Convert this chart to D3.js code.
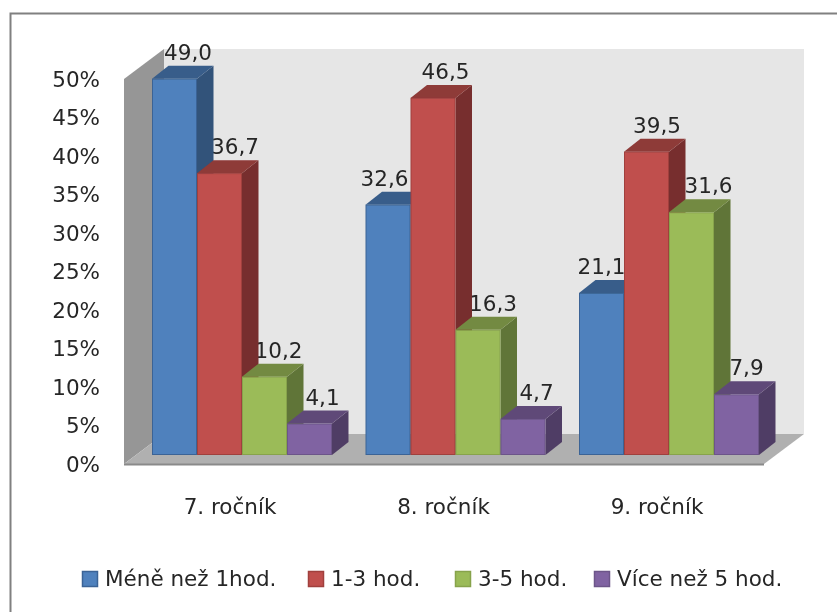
<!DOCTYPE html>
<meta charset="utf-8">
<style>
    body { margin: 0; background: #fff; }
    text { font-family: "DejaVu Sans", sans-serif; fill: #262626; }
    .axis path, .axis line { display: none; }
    .axis text { font-size: 21.5px; font-family: "DejaVu Sans", sans-serif; }
</style>
<div class="chart"></div>
<script src="https://cdn.jsdelivr.net/npm/d3@7"></script>
<script>
    var grades = ["7. ročník", "8. ročník", "9. ročník"];
    var groups = ["Méně než 1hod.", "1-3 hod.", "3-5 hod.", "Více než 5 hod."];
    var less1 = [49.0, 32.6, 21.1];
    var h1to3 = [36.7, 46.5, 39.5];
    var h3to5 = [10.2, 16.3, 31.6];
    var more5 = [4.1, 4.7, 7.9];
    var percentTicks = [0, 5, 10, 15, 20, 25, 30, 35, 40, 45, 50];

    var seriesValues = [less1, h1to3, h3to5, more5];
    // front, top, side, outline
    var colors = [
        ["#4f81bd", "#385d8a", "#31527a", "#3a6496"],
        ["#c0504d", "#8e3a38", "#772f2d", "#a03f3c"],
        ["#9bbb59", "#738a42", "#617537", "#87a34c"],
        ["#8064a2", "#5f4a78", "#503e65", "#6c5489"]
    ];
    // the labels were placed by hand in the original, offset from the bar centre
    var labelShift = [
        [13.5, -3.5, 0],
        [15.5, 12.5, 10.5],
        [14, 15, 17],
        [13, 13.5, 10]
    ];

    var svgMain = d3.select(".chart").append("svg")
        .attr("width", 837)
        .attr("height", 612);

    // the reference is a soft, scaled up screenshot
    svgMain.append("filter").attr("id", "soft")
        .attr("filterUnits", "userSpaceOnUse")
        .attr("x", 0).attr("y", 0).attr("width", 837).attr("height", 612)
        .append("feGaussianBlur").attr("stdDeviation", 0.5);

    var svg = svgMain.append("g").attr("filter", "url(#soft)");

    svg.append("rect")
        .attr("width", 837).attr("height", 612)
        .attr("fill", "#fff");

    // outer frame
    svg.append("rect")
        .attr("x", 10.5).attr("y", 13.5)
        .attr("width", 840).attr("height", 620)
        .attr("fill", "#fff")
        .attr("stroke", "#808080")
        .attr("stroke-width", 2);

    var depthX = 40, depthY = -30;      // depth of the walls
    var barDX = 16.5, barDY = -13;      // depth of a bar
    var wallLeft = 124, wallRight = 764, wallBase = 464;

    var yWall = d3.scaleLinear().domain([0, 50]).range([wallBase, 79]);
    var yBar = d3.scaleLinear().domain([0, 50]).range([455, 71]);

    // back wall
    svg.append("polygon")
        .attr("points", [[wallLeft + depthX, yWall(50) + depthY], [wallRight + depthX, yWall(50) + depthY],
            [wallRight + depthX, wallBase + depthY], [wallLeft + depthX, wallBase + depthY]].join(" "))
        .attr("fill", "#e6e6e6");
    // side wall
    svg.append("polygon")
        .attr("points", [[wallLeft, yWall(50)], [wallLeft + depthX, yWall(50) + depthY],
            [wallLeft + depthX, wallBase + depthY], [wallLeft, wallBase]].join(" "))
        .attr("fill", "#969696");
    // floor
    svg.append("polygon")
        .attr("points", [[wallLeft, wallBase], [wallLeft + depthX, wallBase + depthY],
            [wallRight + depthX, wallBase + depthY], [wallRight, wallBase]].join(" "))
        .attr("fill", "#b0b0b0");
    svg.append("line")
        .attr("x1", wallLeft).attr("x2", wallRight)
        .attr("y1", wallBase + 0.5).attr("y2", wallBase + 0.5)
        .attr("stroke", "#8a8a8a").attr("stroke-width", 2);

    var x0 = d3.scaleBand().domain(grades).range([wallLeft + 28, wallLeft + 28 + 3 * 213.5]);
    var x1 = d3.scaleBand().domain(groups).range([0, 180]);

    var yAxis = d3.axisLeft(yWall).tickValues(percentTicks).tickFormat(function(d) { return d + "%"; });
    svg.append("g").attr("class", "axis")
        .attr("transform", "translate(100,0.5)")
        .call(yAxis)
        .selectAll("text").attr("x", 0).attr("dy", ".32em");

    // labels go under the bars, the side faces cut some of them
    grades.forEach(function(grade, g) {
        groups.forEach(function(name, s) {
            var v = seriesValues[s][g];
            svg.append("text")
                .attr("x", x0(grade) + x1(name) + x1.bandwidth() / 2 + labelShift[s][g])
                .attr("y", yBar(v) - 19)
                .attr("text-anchor", "middle")
                .attr("font-size", 21.5)
                .text(v.toFixed(1).replace(".", ","));
        });
    });

    grades.forEach(function(grade, g) {
        var cell = svg.append("g").attr("transform", "translate(" + x0(grade) + ",0)");
        // left to right, each later bar paints over the previous side face
        groups.forEach(function(name, s) {
            var v = seriesValues[s][g];
            var left = x1(name), w = x1.bandwidth(), top = yBar(v), base = yBar(0);
            var c = colors[s];
            cell.append("polygon")
                .attr("points", [[left + w, top], [left + w + barDX, top + barDY],
                    [left + w + barDX, base + barDY], [left + w, base]].join(" "))
                .attr("fill", c[2]);
            cell.append("polygon")
                .attr("points", [[left, top], [left + barDX, top + barDY],
                    [left + w + barDX, top + barDY], [left + w, top]].join(" "))
                .attr("fill", c[1]);
            cell.append("rect")
                .attr("x", left + 0.5).attr("y", top + 0.5)
                .attr("width", w - 1).attr("height", base - top - 1)
                .attr("fill", c[0])
                .attr("stroke", c[3]);
        });
        svg.append("text")
            .attr("x", x0(grade) + 90 - 12)
            .attr("y", 514)
            .attr("text-anchor", "middle")
            .attr("font-size", 21.5)
            .text(grade);
    });

    // legend
    var legendX = [82, 308, 455, 594];
    groups.forEach(function(name, s) {
        svg.append("rect")
            .attr("x", legendX[s] + 0.5).attr("y", 571.5)
            .attr("width", 15).attr("height", 15)
            .attr("fill", colors[s][0])
            .attr("stroke", colors[s][3])
            .attr("stroke-width", 1.5);
        svg.append("text")
            .attr("x", legendX[s] + 23)
            .attr("y", 586)
            .attr("font-size", 21.5)
            .text(name);
    });
</script>
